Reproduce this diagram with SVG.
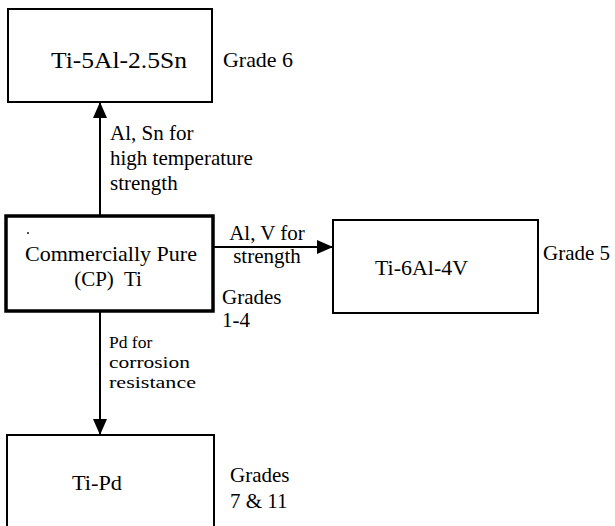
<svg xmlns="http://www.w3.org/2000/svg" width="615" height="526" viewBox="0 0 615 526">
<defs>
<style>
.box{fill:#fff;stroke:#000;stroke-width:2}
.thick{fill:#fff;stroke:#000;stroke-width:3.5}
.con{stroke:#000;stroke-width:2;fill:none;marker-end:url(#arr)}
text{font-family:"Liberation Serif",Tinos,"Times New Roman",Times,"Noto Serif","DejaVu Serif",serif}
</style>
<marker id="arr" markerUnits="userSpaceOnUse" markerWidth="16" markerHeight="16" viewBox="0 0 16 16" refX="16" refY="8" orient="auto">
<path d="M0,1 L16,8 L0,15 Z" fill="#000"/>
</marker>
</defs>
<rect width="615" height="526" fill="#fff"/>
<g id="connectors">
<line class="con" x1="100" y1="216" x2="100" y2="102"/>
<line class="con" x1="214" y1="247" x2="333" y2="247"/>
<line class="con" x1="100" y1="312" x2="100" y2="435"/>
</g>
<g font-size="21" fill="#000">
<g id="ti5al">
<rect class="box" x="8" y="9" width="204" height="93"/>
<text x="51" y="68" font-size="23" textLength="136" lengthAdjust="spacingAndGlyphs">Ti-5Al-2.5Sn</text>
<text x="223" y="67" textLength="70" lengthAdjust="spacingAndGlyphs">Grade 6</text>
</g>
<g id="cp">
<rect class="thick" x="6" y="216" width="207" height="95"/>
<circle cx="28" cy="233" r="0.9" fill="#000"/>
<text x="111" y="261" text-anchor="middle" textLength="172" lengthAdjust="spacingAndGlyphs">Commercially Pure</text>
<text x="108" y="286" text-anchor="middle" xml:space="preserve">(CP)  Ti</text>
<text x="222" y="304">Grades</text>
<text x="222" y="327">1-4</text>
</g>
<g id="ti6al">
<rect class="box" x="333" y="220" width="205" height="93"/>
<text x="375" y="275" textLength="93" lengthAdjust="spacingAndGlyphs">Ti-6Al-4V</text>
<text x="543" y="260" textLength="67" lengthAdjust="spacingAndGlyphs">Grade 5</text>
</g>
<g id="tipd">
<rect class="box" x="7" y="435" width="207" height="100"/>
<text x="72" y="490" textLength="50" lengthAdjust="spacingAndGlyphs">Ti-Pd</text>
<text x="230" y="482">Grades</text>
<text x="230" y="508">7 &amp; 11</text>
</g>
<g id="labels">
<text x="110" y="140">Al, Sn for</text>
<text x="110" y="165">high temperature</text>
<text x="110" y="190">strength</text>
<text x="267" y="240" text-anchor="middle">Al, V for</text>
<text x="267" y="263" text-anchor="middle">strength</text>
<text x="109" y="348" font-size="17.5">Pd for</text>
<text x="109" y="368" font-size="17.5" textLength="81" lengthAdjust="spacingAndGlyphs">corrosion</text>
<text x="109" y="388" font-size="17.5" textLength="87" lengthAdjust="spacingAndGlyphs">resistance</text>
</g>
</g>
</svg>
